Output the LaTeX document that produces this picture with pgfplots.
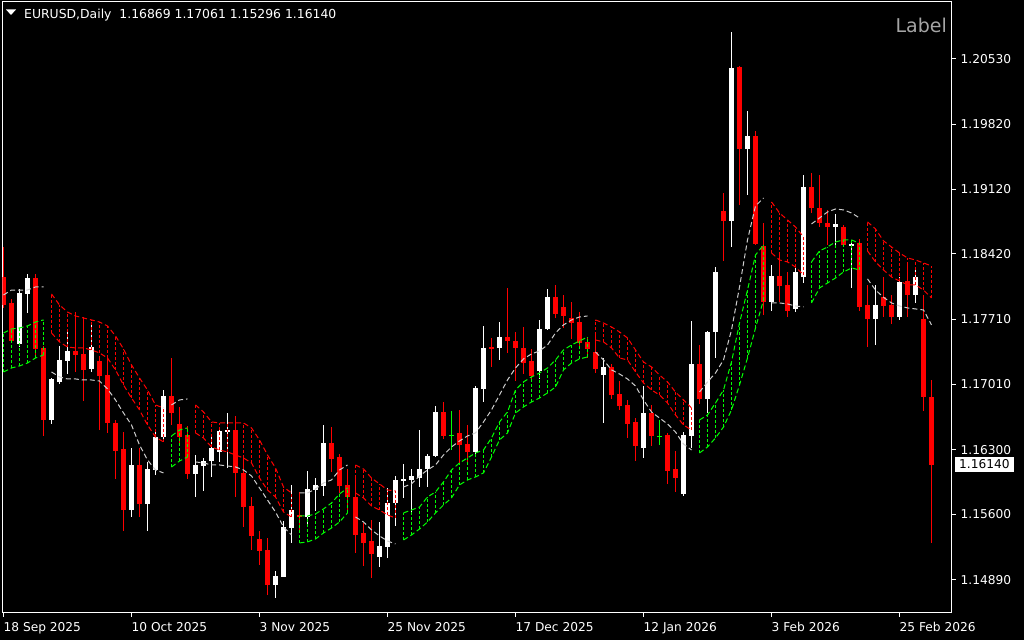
\documentclass[border=0pt]{standalone}
\usepackage{pgfplots}
\pgfplotsset{compat=1.18}
\usepackage{pgfplotstable}
\usepackage{fontspec}
\setmainfont{DejaVu Sans}
\definecolor{mtgreen}{RGB}{0,255,0}
\definecolor{mtred}{RGB}{255,0,0}
\definecolor{mtsilver}{RGB}{205,205,205}
\definecolor{lblgray}{RGB}{165,165,165}

\pgfplotstableread{
i o h l c
0 1.18173 1.18498 1.17835 1.17867
1 1.17892 1.17932 1.17456 1.17481
2 1.17445 1.18040 1.17412 1.18000
3 1.17986 1.18203 1.17784 1.18159
4 1.18159 1.18203 1.17304 1.17391
5 1.17402 1.17423 1.16449 1.16622
6 1.16622 1.17077 1.16579 1.17066
7 1.17037 1.17423 1.17012 1.17272
8 1.17264 1.17596 1.17120 1.17369
9 1.17369 1.17795 1.17145 1.17329
10 1.17337 1.17740 1.16828 1.17164
11 1.17174 1.17651 1.17142 1.17416
12 1.17261 1.17315 1.16514 1.17102
13 1.17109 1.17293 1.16482 1.16587
14 1.16587 1.16622 1.15984 1.16290
15 1.16305 1.16496 1.15424 1.15648
16 1.15648 1.16316 1.15575 1.16135
17 1.16135 1.16316 1.15575 1.15713
18 1.15713 1.16171 1.15424 1.16092
19 1.16081 1.16496 1.16027 1.16441
20 1.16441 1.16947 1.16387 1.16882
21 1.16882 1.17293 1.16568 1.16701
22 1.16579 1.16766 1.16344 1.16441
23 1.16460 1.16557 1.15980 1.16038
24 1.16038 1.16243 1.15786 1.16135
25 1.16124 1.16208 1.15857 1.16178
26 1.16182 1.16460 1.16008 1.16319
27 1.16279 1.16550 1.16171 1.16503
28 1.16496 1.16701 1.16099 1.16514
29 1.16514 1.16666 1.15786 1.16045
30 1.16045 1.16243 1.15467 1.15684
31 1.15691 1.15786 1.15215 1.15367
32 1.15331 1.15424 1.15053 1.15207
33 1.15215 1.15342 1.14728 1.14836
34 1.14836 1.14988 1.14692 1.14934
35 1.14926 1.15532 1.14920 1.15467
36 1.15456 1.15919 1.15294 1.15648
37 1.15594 1.15846 1.15432 1.15569
38 1.15575 1.16070 1.15467 1.15875
39 1.15864 1.15991 1.15640 1.15919
40 1.15908 1.16568 1.15800 1.16376
41 1.16376 1.16550 1.16063 1.16200
42 1.16218 1.16254 1.15835 1.15908
43 1.15919 1.16089 1.15648 1.15786
44 1.15793 1.16008 1.15186 1.15377
45 1.15396 1.15511 1.15042 1.15287
46 1.15312 1.15540 1.14915 1.15172
47 1.15142 1.15521 1.15034 1.15258
48 1.15251 1.15883 1.15125 1.15727
49 1.15720 1.16016 1.15475 1.15973
50 1.15962 1.16146 1.15775 1.15984
51 1.15973 1.16089 1.15612 1.16016
52 1.15998 1.16514 1.15900 1.16089
53 1.16092 1.16254 1.15900 1.16233
54 1.16233 1.16774 1.16222 1.16709
55 1.16709 1.16817 1.16413 1.16449
56 1.16457 1.16720 1.16297 1.16457
57 1.16478 1.16731 1.16135 1.16352
58 1.16362 1.16568 1.16135 1.16279
59 1.16279 1.16990 1.16225 1.16965
60 1.16955 1.17640 1.16820 1.17398
61 1.17409 1.17507 1.17199 1.17391
62 1.17398 1.17686 1.17272 1.17517
63 1.17517 1.18048 1.17351 1.17481
64 1.17481 1.17578 1.17044 1.17398
65 1.17398 1.17626 1.17120 1.17243
66 1.17261 1.17388 1.17055 1.17102
67 1.17156 1.17705 1.17063 1.17604
68 1.17604 1.18037 1.17596 1.17950
69 1.17950 1.18084 1.17730 1.17766
70 1.17842 1.17975 1.17615 1.17751
71 1.17723 1.17896 1.17496 1.17676
72 1.17680 1.17795 1.17402 1.17459
73 1.17463 1.17524 1.17290 1.17388
74 1.17358 1.17578 1.17134 1.17171
75 1.17109 1.17290 1.16593 1.17193
76 1.17193 1.17228 1.16846 1.16893
77 1.16904 1.17048 1.16731 1.16774
78 1.16785 1.16839 1.16424 1.16579
79 1.16604 1.16644 1.16178 1.16341
80 1.16322 1.16990 1.16214 1.16701
81 1.16701 1.16785 1.16344 1.16452
82 1.16449 1.16622 1.16352 1.16449
83 1.16460 1.16485 1.15929 1.16070
84 1.16092 1.16287 1.15846 1.15998
85 1.15818 1.16496 1.15800 1.16460
86 1.16452 1.17694 1.16322 1.17228
87 1.17228 1.17434 1.16795 1.16850
88 1.16850 1.17586 1.16701 1.17572
89 1.17572 1.18282 1.17290 1.18228
90 1.18885 1.19083 1.18347 1.18776
91 1.18776 1.20826 1.18492 1.20429
92 1.20447 1.20454 1.18950 1.19556
93 1.19556 1.19970 1.19058 1.19697
94 1.19697 1.19751 1.18517 1.18527
95 1.18506 1.18758 1.17759 1.17903
96 1.17903 1.18300 1.17805 1.18181
97 1.18181 1.18427 1.17903 1.18073
98 1.18084 1.18221 1.17740 1.17805
99 1.17821 1.18264 1.17791 1.18228
100 1.18173 1.19274 1.18102 1.19148
101 1.19148 1.19293 1.18866 1.18920
102 1.18920 1.19274 1.18715 1.18752
103 1.18758 1.18896 1.18517 1.18708
104 1.18715 1.18852 1.18498 1.18744
105 1.18708 1.18733 1.18495 1.18513
106 1.18506 1.18571 1.18048 1.18527
107 1.18535 1.18578 1.17805 1.17849
108 1.17867 1.18084 1.17416 1.17712
109 1.17716 1.18084 1.17434 1.17867
110 1.17950 1.18170 1.17740 1.17860
111 1.17867 1.17975 1.17661 1.17740
112 1.17740 1.18170 1.17705 1.18113
113 1.18127 1.18300 1.17740 1.17975
114 1.17975 1.18264 1.17892 1.18173
115 1.17716 1.17975 1.16723 1.16870
116 1.16869 1.17061 1.15296 1.16140
}\candles

\pgfplotstableread{
i m
0 1.17975
1 1.18029
2 1.18029
3 1.18029
4 1.18062
5 1.18062
5.5 nan
6 1.17142
7 1.17088
8 1.17066
9 1.17066
10 1.17055
11 1.17055
12 1.17044
13 1.16958
14 1.16839
15 1.16698
16 1.16568
17 1.16352
18 1.16189
19 1.16081
20 1.16049
20.5 nan
21 1.16785
22 1.16839
23 1.16850
23.5 nan
24 1.16168
25 1.16157
26 1.16135
27 1.16135
28 1.16124
29 1.16113
30 1.16081
31 1.16016
32 1.15886
33 1.15756
34 1.15626
35 1.15464
36 1.15377
36.5 nan
37 1.15832
38 1.15832
39 1.15875
40 1.15940
41 1.15973
42 1.16081
43 1.16135
43.5 nan
44 1.15572
45 1.15518
46 1.15432
47 1.15367
48 1.15312
49 1.15280
49.5 nan
50 1.15897
51 1.15930
52 1.16016
53 1.16081
54 1.16135
55 1.16243
56 1.16330
57 1.16395
58 1.16449
59 1.16482
60 1.16601
61 1.16731
62 1.16893
63 1.17055
64 1.17185
65 1.17283
66 1.17337
67 1.17369
68 1.17434
69 1.17564
70 1.17651
71 1.17705
72 1.17737
73 1.17748
73.5 nan
74 1.17358
75 1.17272
76 1.17164
77 1.17120
78 1.17066
79 1.16990
80 1.16839
81 1.16709
82 1.16644
83 1.16579
84 1.16492
85 1.16362
86 1.16297
86.5 nan
87 1.16925
88 1.17034
89 1.17131
90 1.17272
91 1.17596
92 1.18062
93 1.18571
94 1.18939
95 1.19025
95.5 nan
96 1.17889
97 1.17889
98 1.17878
99 1.17856
100 1.17846
100.5 nan
101 1.18744
102 1.18809
103 1.18874
104 1.18906
105 1.18896
106 1.18863
107 1.18809
107.5 nan
108 1.18149
109 1.18029
110 1.17950
111 1.17889
112 1.17856
113 1.17835
114 1.17824
115 1.17813
116 1.17651
}\midline

\pgfplotstableread{
i u l
6 1.17986 1.17564
7 1.17867 1.17467
8 1.17791 1.17412
9 1.17748 1.17402
10 1.17726 1.17402
11 1.17705 1.17380
12 1.17683 1.17348
13 1.17640 1.17293
14 1.17532 1.17164
15 1.17391 1.17001
16 1.17218 1.16860
17 1.17077 1.16731
18 1.16947 1.16568
19 1.16785 1.16438
20 1.16752 1.16384
20.5 nan nan
24 1.16785 1.16482
25 1.16709 1.16427
26 1.16601 1.16330
27 1.16590 1.16297
28 1.16590 1.16276
29 1.16590 1.16243
30 1.16590 1.16211
31 1.16536 1.16157
32 1.16406 1.15994
33 1.16243 1.15864
34 1.16103 1.15789
35 1.15897 1.15626
36 1.15832 1.15572
36.5 nan nan
44 1.16135 1.15832
45 1.16092 1.15778
46 1.15994 1.15691
47 1.15930 1.15648
48 1.15864 1.15594
49 1.15854 1.15561
49.5 nan nan
74 1.17705 1.17488
75 1.17672 1.17467
76 1.17629 1.17402
77 1.17575 1.17293
78 1.17510 1.17272
79 1.17380 1.17142
80 1.17250 1.17023
81 1.17196 1.16947
82 1.17109 1.16893
83 1.17034 1.16806
84 1.16925 1.16676
85 1.16839 1.16568
86 1.16752 1.16514
86.5 nan nan
96 1.18982 1.18430
97 1.18863 1.18354
98 1.18787 1.18333
99 1.18711 1.18278
100 1.18603 1.18192
100.5 nan nan
108 1.18766 1.18452
109 1.18690 1.18333
110 1.18560 1.18246
111 1.18495 1.18170
112 1.18430 1.18127
113 1.18376 1.18084
114 1.18354 1.18084
115 1.18322 1.18029
116 1.18289 1.17943
}\redband

\pgfplotstableread{
i u l
0 1.17564 1.17142
1 1.17607 1.17185
2 1.17618 1.17207
3 1.17640 1.17239
4 1.17683 1.17293
5 1.17705 1.17326
5.5 nan nan
21 1.16449 1.16113
22 1.16514 1.16178
23 1.16536 1.16222
23.5 nan nan
37 1.15583 1.15291
38 1.15583 1.15302
39 1.15605 1.15334
40 1.15659 1.15399
41 1.15724 1.15453
42 1.15821 1.15518
43 1.15886 1.15616
43.5 nan nan
50 1.15616 1.15323
51 1.15648 1.15377
52 1.15680 1.15442
53 1.15789 1.15518
54 1.15843 1.15616
55 1.15951 1.15702
56 1.16081 1.15778
57 1.16157 1.15919
58 1.16211 1.15973
59 1.16265 1.16005
60 1.16297 1.16049
61 1.16427 1.16222
62 1.16601 1.16406
63 1.16709 1.16482
64 1.16947 1.16698
65 1.17034 1.16763
66 1.17088 1.16817
67 1.17131 1.16860
68 1.17185 1.16915
69 1.17272 1.16979
70 1.17380 1.17164
71 1.17434 1.17239
72 1.17477 1.17283
73 1.17521 1.17304
73.5 nan nan
87 1.16622 1.16265
88 1.16676 1.16330
89 1.16806 1.16427
90 1.16947 1.16546
91 1.17250 1.16731
92 1.17672 1.17001
93 1.18029 1.17293
94 1.18408 1.17618
95 1.18517 1.17921
95.5 nan nan
101 1.18333 1.17889
102 1.18452 1.18051
103 1.18495 1.18105
104 1.18549 1.18159
105 1.18571 1.18224
106 1.18571 1.18268
107 1.18535 1.18246
}\greenband

\pgfplotsset{
  candle/.style 2 args={color=#1, draw=none, mark=none,
    error bars/.cd, y dir=both, y explicit, error mark=none,
    error bar style={color=#1, line width=#2, line cap=butt, solid}},
  edge/.style={draw=#1, line width=1pt, dash pattern=on 5pt off 3pt, mark=none, unbounded coords=jump},
  hatch/.style={draw=#1, line width=1pt, line cap=butt, dash pattern=on 3pt off 2pt,
    mark=none, unbounded coords=discard,
    quiver={u=0, v=\thisrow{u}-\thisrow{l}, every arrow/.append style={draw=#1}}},
}

\begin{document}
\begin{tikzpicture}[x=1pt,y=1pt]
\useasboundingbox (0,0) rectangle (1024,640);
\fill[black] (0,0) rectangle (1024,640);
\begin{axis}[
  at={(2.5pt,27.5pt)}, anchor=south west, scale only axis,
  width=949pt, height=611pt,
  xmin=-0.125, xmax=118.5, ymin=1.14538, ymax=1.21152,
  axis line style={white, line width=1pt},
  xtick={0,16,32,48,64,80,96,112}, xticklabels={},
  ytick={1.1489,1.156,1.163,1.1701,1.1771,1.1842,1.1912,1.1982,1.2053}, yticklabels={},
  xtick pos=left, ytick pos=right,
  tick align=outside, major tick length=4pt,
  tick style={white, line width=1pt},
  clip=true,
]
% wicks
\addplot[candle={white}{1pt}] table[x=i, y expr={ifthenelse(\thisrow{c}>\thisrow{o},(\thisrow{h}+\thisrow{l})/2,nan)}, y error expr={(\thisrow{h}-\thisrow{l})/2}] {\candles};
\addplot[candle={mtred}{1pt}] table[x=i, y expr={ifthenelse(\thisrow{c}<\thisrow{o},(\thisrow{h}+\thisrow{l})/2,nan)}, y error expr={(\thisrow{h}-\thisrow{l})/2}] {\candles};
\addplot[candle={mtgreen}{1pt}] table[x=i, y expr={ifthenelse(\thisrow{c}==\thisrow{o},(\thisrow{h}+\thisrow{l})/2,nan)}, y error expr={(\thisrow{h}-\thisrow{l})/2}] {\candles};
% bodies
\addplot[candle={white}{5pt}] table[x=i, y expr={ifthenelse(\thisrow{c}>\thisrow{o},(\thisrow{o}+\thisrow{c})/2,nan)}, y error expr={max(abs(\thisrow{c}-\thisrow{o})/2,0.00005)}] {\candles};
\addplot[candle={mtred}{5pt}] table[x=i, y expr={ifthenelse(\thisrow{c}<\thisrow{o},(\thisrow{o}+\thisrow{c})/2,nan)}, y error expr={max(abs(\thisrow{c}-\thisrow{o})/2,0.00005)}] {\candles};
\addplot[candle={mtgreen}{5pt}] table[x=i, y expr={ifthenelse(\thisrow{c}==\thisrow{o},(\thisrow{o}+\thisrow{c})/2,nan)}, y error expr={0.00005}] {\candles};
% bands: vertical hatch lines from lower to upper edge
\addplot[hatch=mtred] table[x=i, y=l] {\redband};
\addplot[hatch=mtgreen] table[x=i, y=l] {\greenband};
\addplot[edge=mtred] table[x=i, y=u] {\redband};
\addplot[edge=mtred] table[x=i, y=l] {\redband};
\addplot[edge=mtgreen] table[x=i, y=u] {\greenband};
\addplot[edge=mtgreen] table[x=i, y=l] {\greenband};
\addplot[edge=mtsilver] table[x=i, y=m] {\midline};
% anchors for labels
\coordinate (ya) at (axis cs:118.5,1.2053);
\coordinate (yb) at (axis cs:118.5,1.1982);
\coordinate (yc) at (axis cs:118.5,1.1912);
\coordinate (yd) at (axis cs:118.5,1.1842);
\coordinate (ye) at (axis cs:118.5,1.1771);
\coordinate (yf) at (axis cs:118.5,1.1701);
\coordinate (yg) at (axis cs:118.5,1.1630);
\coordinate (yh) at (axis cs:118.5,1.1560);
\coordinate (yi) at (axis cs:118.5,1.1489);
\coordinate (yp) at (axis cs:118.5,1.1614);
\coordinate (x0) at (axis cs:0,1.14538);
\coordinate (x1) at (axis cs:16,1.14538);
\coordinate (x2) at (axis cs:32,1.14538);
\coordinate (x3) at (axis cs:48,1.14538);
\coordinate (x4) at (axis cs:64,1.14538);
\coordinate (x5) at (axis cs:80,1.14538);
\coordinate (x6) at (axis cs:96,1.14538);
\coordinate (x7) at (axis cs:112,1.14538);
\end{axis}
\begin{scope}[every node/.style={text=white, inner sep=0pt, font=\fontsize{12.2pt}{14pt}\selectfont}]
\node[anchor=west] at ([xshift=9pt]ya) {1.20530};
\node[anchor=west] at ([xshift=9pt]yb) {1.19820};
\node[anchor=west] at ([xshift=9pt]yc) {1.19120};
\node[anchor=west] at ([xshift=9pt]yd) {1.18420};
\node[anchor=west] at ([xshift=9pt]ye) {1.17710};
\node[anchor=west] at ([xshift=9pt]yf) {1.17010};
\node[anchor=west] at ([xshift=9pt]yg) {1.16300};
\node[anchor=west] at ([xshift=9pt]yh) {1.15600};
\node[anchor=west] at ([xshift=9pt]yi) {1.14890};
\node[anchor=base west] at ([yshift=-19pt]x0) {18 Sep 2025};
\node[anchor=base west] at ([yshift=-19pt]x1) {10 Oct 2025};
\node[anchor=base west] at ([yshift=-19pt]x2) {3 Nov 2025};
\node[anchor=base west] at ([yshift=-19pt]x3) {25 Nov 2025};
\node[anchor=base west] at ([yshift=-19pt]x4) {17 Dec 2025};
\node[anchor=base west] at ([yshift=-19pt]x5) {12 Jan 2026};
\node[anchor=base west] at ([yshift=-19pt]x6) {3 Feb 2026};
\node[anchor=base west] at ([yshift=-19pt]x7) {25 Feb 2026};
\node[anchor=west, fill=white, text=black, inner xsep=4pt, inner ysep=3pt] at ([xshift=3.5pt]yp) {1.16140};
\node[anchor=base west, font=\fontsize{12.4pt}{14pt}\selectfont] at (24,621.5) {EURUSD,Daily\ \ 1.16869 1.17061 1.15296 1.16140};
\node[anchor=base east, text=lblgray, font=\fontsize{19pt}{22pt}\selectfont] at (947,607) {Label};
\end{scope}
\fill[white] (6,630.5) -- (16,630.5) -- (11,625) -- cycle;
\end{tikzpicture}
\end{document}
